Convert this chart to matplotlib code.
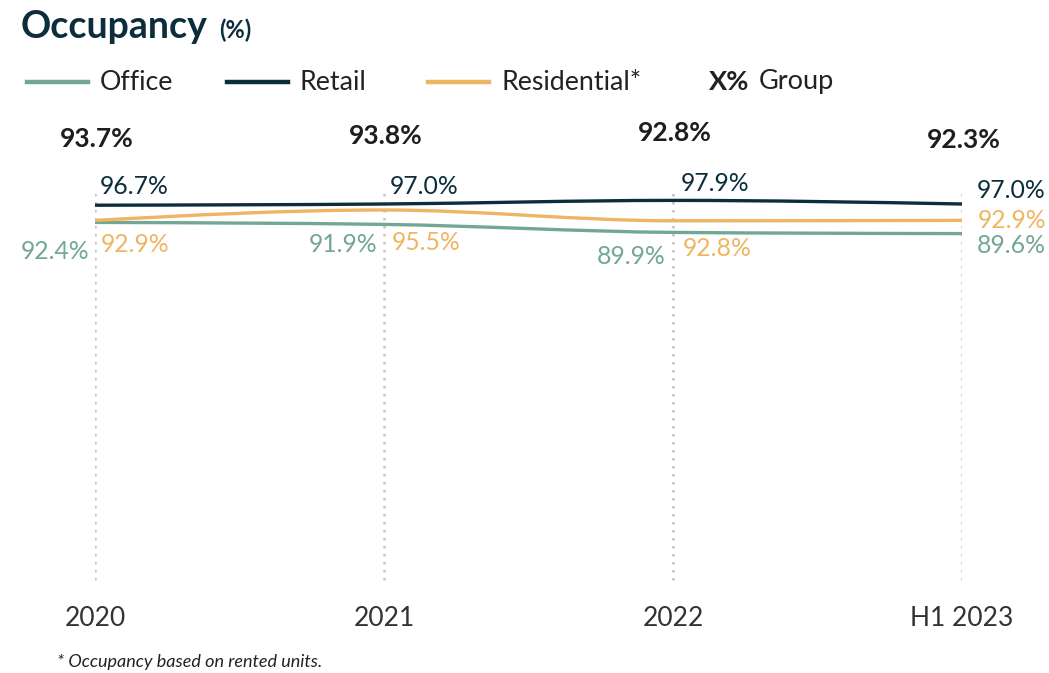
import numpy as np
import matplotlib.pyplot as plt
from matplotlib.path import Path
from matplotlib.patches import PathPatch
from matplotlib.lines import Line2D

# data
periods = ['2020', '2021', '2022', 'H1 2023']
office = [92.4, 91.9, 89.9, 89.6]
retail = [96.7, 97.0, 97.9, 97.0]
residential = [92.9, 95.5, 92.8, 92.9]
group = [93.7, 93.8, 92.8, 92.3]

c_office = '#72a893'
c_retail = '#0b2d3c'
c_resid = '#efb562'
c_group = '#1e1e1e'
c_tick = '#333333'

plt.rcParams['font.family'] = ['Lato', 'DejaVu Sans']


def monotone_path(xs, ys):
    # monotone-x cubic curve (like d3.curveMonotoneX) as a bezier path
    xs = np.asarray(xs, float)
    ys = np.asarray(ys, float)
    n = len(xs)
    h = np.diff(xs)
    s = np.diff(ys) / h
    t = np.zeros(n)
    for i in range(1, n - 1):
        p = (s[i - 1] * h[i] + s[i] * h[i - 1]) / (h[i - 1] + h[i])
        t[i] = (np.sign(s[i - 1]) + np.sign(s[i])) * min(abs(s[i - 1]), abs(s[i]), 0.5 * abs(p))
    t[0] = (3 * s[0] - t[1]) / 2
    t[-1] = (3 * s[-1] - t[-2]) / 2
    verts = [(xs[0], ys[0])]
    codes = [Path.MOVETO]
    for i in range(n - 1):
        dx = h[i] / 3
        verts += [(xs[i] + dx, ys[i] + dx * t[i]),
                  (xs[i + 1] - dx, ys[i + 1] - dx * t[i + 1]),
                  (xs[i + 1], ys[i + 1])]
        codes += [Path.CURVE4] * 3
    return Path(verts, codes)


W, H = 1049, 673
fig = plt.figure(figsize=(W / 100, H / 100), dpi=100)
ax = fig.add_axes([95 / W, (H - 592) / H, 867 / W, 400 / H])
ax.set_xlim(0, 3)
ax.set_ylim(0, 100)
ax.axis('off')

x = np.arange(len(periods))

# dotted vertical guides
for xi in x:
    ax.plot([xi, xi], [3, 100], color='#c4c4c4', lw=1.8, ls=(0, (1.0, 2.2)), zorder=1)

for vals, col in [(office, c_office), (residential, c_resid), (retail, c_retail)]:
    ax.add_patch(PathPatch(monotone_path(x, vals), fill=False, edgecolor=col, lw=2.4,
                           zorder=3, capstyle='butt'))

# value labels (offsets in pixels)
retail_off = [(5, 19, 'left'), (6, 17, 'left'), (8, 17, 'left'), (84, 14, 'right')]
resid_off = [(6, -24, 'left'), (8, -33, 'left'), (10, -28, 'left'), (84, 0, 'right')]
office_off = [(-6, -29, 'right'), (-7, -20, 'right'), (-8, -24, 'right'), (84, -12, 'right')]

for vals, offs, col in [(retail, retail_off, c_retail), (residential, resid_off, c_resid),
                        (office, office_off, c_office)]:
    for xi, v, (dx, dy, ha) in zip(x, vals, offs):
        ax.annotate(f'{v:.1f}%', (xi, v), xytext=(dx, dy), textcoords='offset pixels',
                    ha=ha, va='center', color=col, fontsize=17.8, annotation_clip=False)

group_dy = [53, 56, 59, 52]
for xi, v, r, dy in zip(x, group, retail, group_dy):
    ax.annotate(f'{v:.1f}%', (xi, r), xytext=(2, dy + (591.6 - 4 * r) - 205 + 13),
                textcoords='offset pixels', ha='center', va='center', color=c_group,
                fontsize=19, fontweight='bold', annotation_clip=False)

# period labels
for xi, lab in zip(x, periods):
    ax.text(xi, -6.5, lab, ha='center', va='center', fontsize=19, color=c_tick)

# title
fig.text(21 / W, 1 - 27 / H, 'Occupancy', fontsize=27, fontweight='bold', color=c_retail,
         va='center', ha='left')
fig.text(219 / W, 1 - 30 / H, '(%)', fontsize=17, fontweight='bold', color=c_retail,
         va='center', ha='left')

# legend
ly = 1 - 82 / H
for x0, col, lab in [(27, c_office, 'Office'), (227, c_retail, 'Retail'),
                     (428, c_resid, 'Residential*')]:
    fig.add_artist(Line2D([x0 / W, (x0 + 61) / W], [ly, ly], color=col, lw=3.2,
                          transform=fig.transFigure))
    fig.text((x0 + 73) / W, ly, lab, fontsize=19.3, color='#222222', va='center', ha='left')
fig.text(709 / W, ly, 'X%', fontsize=19.5, fontweight='bold', color='#222222', va='center',
         ha='left')
fig.text(759 / W, ly, 'Group', fontsize=19.5, color='#222222', va='center', ha='left')

fig.text(57 / W, 1 - 662 / H, '* Occupancy based on rented units.', fontsize=13,
         style='italic', color='#222222', va='center', ha='left')

fig.savefig('out.png', dpi=100, facecolor='white')
